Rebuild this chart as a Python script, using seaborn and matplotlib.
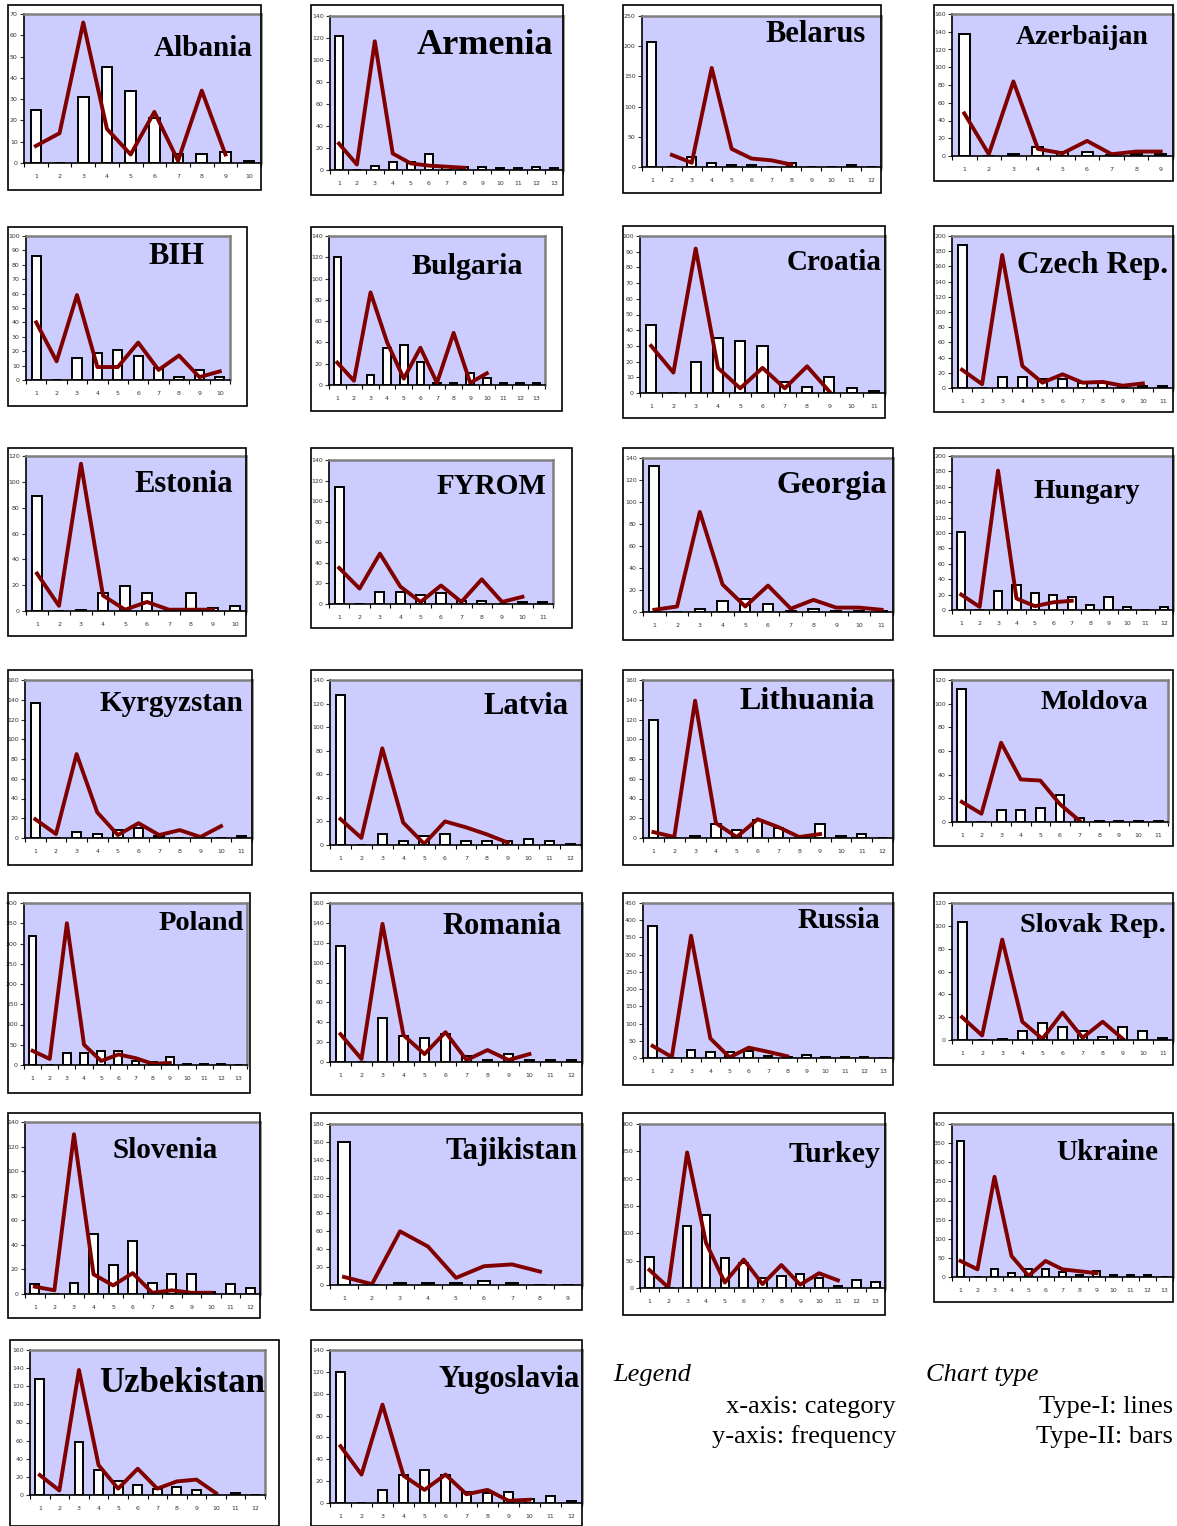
import numpy as np
import matplotlib
matplotlib.use("Agg")
import matplotlib.pyplot as plt
import seaborn as sns
from matplotlib.patches import Rectangle

W, H = 1177, 1526

# ------------------- data: bars (Type-II) and line (Type-I) -------------------
albania_bars = [25, 0, 31, 45, 34, 21, 4, 4, 5, 1]
albania_line = [8, 14, 66, 16, 4, 24, 1, 34, 4]
armenia_bars = [122, 0, 4, 7, 7, 15, 3, 3, 3, 2, 2, 3, 2]
armenia_line = [24, 5, 117, 15, 6, 4, 3, 2]
belarus_bars = [207, 0, 17, 7, 3, 3, 0, 6, 0, 0, 3, 0]
belarus_line = [None, 20, 7, 164, 30, 14, 11, 4]
azerbaijan_bars = [138, 0, 2, 10, 5, 4, 1, 2, 2]
azerbaijan_line = [48, 2, 84, 8, 3, 17, 2, 5, 5]
bih_bars = [86, 0, 15, 19, 21, 17, 8, 2, 7, 2]
bih_line = [40, 13, 59, 9, 9, 26, 7, 17, 2, 6]
bulgaria_bars = [120, 0, 9, 35, 38, 22, 2, 2, 11, 7, 2, 2, 2]
bulgaria_line = [21, 4, 87, 40, 6, 35, 2, 49, 2, 11]
croatia_bars = [43, 0, 20, 35, 33, 30, 7, 4, 10, 3, 1]
croatia_line = [30, 13, 92, 16, 3, 16, 3, 17, 1]
czech_bars = [188, 0, 15, 15, 12, 12, 6, 6, 4, 3, 3]
czech_line = [24, 5, 175, 29, 7, 18, 7, 8, 3, 6]
estonia_bars = [89, 0, 1, 14, 19, 14, 0, 14, 2, 4]
estonia_line = [29, 4, 114, 12, 1, 7, 1, 1, 1]
fyrom_bars = [114, 0, 12, 12, 9, 11, 3, 3, 0, 2, 2]
fyrom_line = [35, 15, 49, 17, 2, 18, 2, 24, 2, 7]
georgia_bars = [133, 0, 3, 10, 12, 7, 1, 3, 1, 1, 1]
georgia_line = [2, 5, 91, 25, 5, 24, 3, 11, 4, 4, 2]
hungary_bars = [101, 0, 25, 33, 22, 19, 17, 7, 17, 4, 0, 4]
hungary_line = [20, 4, 181, 15, 5, 10, 12]
kyrgyzstan_bars = [137, 0, 6, 4, 8, 10, 2, 0, 0, 0, 2]
kyrgyzstan_line = [19, 4, 85, 26, 3, 15, 3, 8, 1, 12]
latvia_bars = [127, 0, 9, 3, 8, 9, 3, 3, 3, 5, 3, 1]
latvia_line = [22, 6, 82, 19, 1, 20, 15, 9, 2]
lithuania_bars = [120, 0, 2, 14, 8, 18, 10, 0, 14, 2, 4, 0]
lithuania_line = [6, 1, 139, 15, 1, 19, 11, 1, 4]
moldova_bars = [112, 0, 10, 10, 12, 23, 3, 1, 1, 1, 1]
moldova_line = [17, 7, 67, 36, 35, 15, 1]
poland_bars = [318, 0, 30, 30, 35, 35, 10, 8, 19, 3, 3, 3, 0]
poland_line = [35, 15, 350, 50, 10, 26, 17, 3, 5]
romania_bars = [117, 0, 44, 26, 24, 28, 6, 2, 8, 2, 2, 2]
romania_line = [28, 3, 139, 27, 8, 30, 2, 12, 2, 8]
russia_bars = [383, 0, 22, 17, 16, 20, 5, 2, 10, 4, 4, 4, 0]
russia_line = [35, 3, 355, 57, 2, 30, 18, 5]
slovak_bars = [103, 0, 1, 8, 15, 11, 8, 3, 11, 8, 2]
slovak_line = [20, 4, 88, 16, 1, 24, 2, 16, 1]
slovenia_bars = [8, 0, 9, 49, 24, 43, 9, 16, 16, 2, 8, 5]
slovenia_line = [6, 3, 130, 16, 7, 17, 1, 3, 1, 1]
tajikistan_bars = [160, 0, 2, 2, 2, 4, 2, 0, 0]
tajikistan_line = [9, 1, 60, 43, 8, 21, 23, 15]
turkey_bars = [57, 0, 113, 134, 54, 45, 18, 22, 25, 18, 3, 14, 11]
turkey_line = [33, 1, 248, 83, 10, 52, 7, 42, 6, 27, 14]
ukraine_bars = [355, 0, 20, 10, 20, 20, 12, 5, 15, 5, 5, 5, 0]
ukraine_line = [42, 20, 262, 55, 3, 42, 20, 15, 10]
uzbekistan_bars = [128, 0, 59, 28, 15, 11, 7, 9, 5, 0, 2, 0]
uzbekistan_line = [22, 5, 138, 33, 7, 29, 7, 15, 17, 2]
yugoslavia_bars = [120, 0, 12, 26, 30, 26, 10, 9, 10, 4, 6, 2]
yugoslavia_line = [52, 26, 90, 25, 12, 26, 8, 12, 2, 3]

# ------------------- layout (pixels): box, plot area, title -------------------
panels = [
    ("Albania", albania_bars, albania_line, 70, 10, (8, 5, 261, 190), (24, 14, 261, 163), 21, 253, 49),
    ("Armenia", armenia_bars, armenia_line, 140, 20, (311, 5, 563, 195), (330, 16, 563, 170), 26, 553, 46),
    ("Belarus", belarus_bars, belarus_line, 250, 50, (623, 5, 881, 193), (642, 16, 881, 167), 22, 866, 35),
    ("Azerbaijan", azerbaijan_bars, azerbaijan_line, 160, 20, (934, 5, 1173, 181), (952, 14, 1173, 156), 20, 1149, 38),
    ("BIH", bih_bars, bih_line, 100, 10, (8, 227, 247, 406), (26, 236, 230, 380), 22, 204, 257),
    ("Bulgaria", bulgaria_bars, bulgaria_line, 140, 20, (311, 227, 562, 411), (329, 236, 545, 385), 21.5, 523, 266),
    ("Croatia", croatia_bars, croatia_line, 100, 10, (623, 226, 885, 418), (640, 236, 885, 393), 21, 882, 263),
    ("Czech Rep.", czech_bars, czech_line, 200, 20, (934, 226, 1173, 412), (952, 236, 1173, 388), 22.5, 1168, 266),
    ("Estonia", estonia_bars, estonia_line, 120, 20, (8, 448, 246, 636), (26, 456, 246, 611), 22, 233, 484),
    ("FYROM", fyrom_bars, fyrom_line, 140, 20, (311, 448, 572, 628), (329, 460, 553, 604), 21, 546, 486),
    ("Georgia", georgia_bars, georgia_line, 140, 20, (623, 448, 893, 640), (643, 458, 893, 612), 23, 887, 486),
    ("Hungary", hungary_bars, hungary_line, 200, 20, (934, 448, 1173, 636), (952, 456, 1173, 610), 20, 1140, 491),
    ("Kyrgyzstan", kyrgyzstan_bars, kyrgyzstan_line, 160, 20, (8, 670, 252, 865), (25, 680, 252, 838), 21, 243, 704),
    ("Latvia", latvia_bars, latvia_line, 140, 20, (311, 670, 582, 871), (330, 680, 581, 845), 22, 569, 707),
    ("Lithuania", lithuania_bars, lithuania_line, 160, 20, (623, 670, 893, 865), (643, 680, 893, 838), 23, 875, 702),
    ("Moldova", moldova_bars, moldova_line, 120, 20, (934, 670, 1173, 846), (952, 680, 1168, 822), 20.5, 1148, 703),
    ("Poland", poland_bars, poland_line, 400, 50, (8, 893, 250, 1093), (24, 903, 247, 1065), 20.5, 244, 923),
    ("Romania", romania_bars, romania_line, 160, 20, (311, 893, 582, 1095), (330, 903, 582, 1062), 22, 562, 927),
    ("Russia", russia_bars, russia_line, 450, 50, (623, 893, 893, 1085), (643, 903, 893, 1058), 21, 880, 921),
    ("Slovak Rep.", slovak_bars, slovak_line, 120, 20, (934, 893, 1173, 1065), (952, 903, 1173, 1040), 20.5, 1166, 925),
    ("Slovenia", slovenia_bars, slovenia_line, 140, 20, (8, 1113, 260, 1318), (25, 1122, 260, 1294), 21, 218, 1150),
    ("Tajikistan", tajikistan_bars, tajikistan_line, 180, 20, (311, 1113, 582, 1310), (330, 1124, 582, 1285), 22, 578, 1152),
    ("Turkey", turkey_bars, turkey_line, 300, 50, (623, 1113, 885, 1315), (640, 1124, 885, 1288), 21.5, 880, 1155),
    ("Ukraine", ukraine_bars, ukraine_line, 400, 50, (934, 1113, 1173, 1302), (952, 1124, 1173, 1277), 21, 1158, 1152),
    ("Uzbekistan", uzbekistan_bars, uzbekistan_line, 160, 20, (10, 1340, 279, 1526), (30, 1350, 265, 1495), 25, 265, 1384),
    ("Yugoslavia", yugoslavia_bars, yugoslavia_line, 140, 20, (311, 1340, 582, 1526), (330, 1350, 582, 1503), 22, 580, 1380),
]

fig = plt.figure(figsize=(W / 100, H / 100), dpi=100)

for name, bars, line, ymax, step, box, area, fs, tx, ty in panels:
    # outer chart frame
    fig.add_artist(Rectangle((box[0] / W, 1 - box[3] / H), (box[2] - box[0]) / W, (box[3] - box[1]) / H,
                             transform=fig.transFigure, fill=False, edgecolor="black", lw=1.2))
    ax = fig.add_axes([area[0] / W, 1 - area[3] / H, (area[2] - area[0]) / W, (area[3] - area[1]) / H])
    ax.set_facecolor("#ccccff")

    cats = np.arange(1, len(bars) + 1)
    sns.barplot(x=cats, y=bars, native_scale=True, width=0.45, color="white", saturation=1,
                edgecolor="black", linewidth=1.4, ax=ax)

    lx = [c for c, v in zip(cats, line) if v is not None]
    ly = [v for v in line if v is not None]
    sns.lineplot(x=lx, y=ly, color="#800000", linewidth=2.8, sort=False, ax=ax)

    n = len(bars)
    ax.set_xlim(0.5, n + 0.5)
    ax.set_ylim(0, ymax)
    ax.set_xticks(cats)
    ax.set_xticklabels([str(c) for c in cats])
    ax.set_xticks(np.arange(0.5, n + 1), minor=True)
    ax.set_yticks(np.arange(0, ymax + step, step))
    ax.tick_params(axis="x", which="major", length=0, labelsize=4.5, pad=8, colors="#333333")
    ax.tick_params(axis="x", which="minor", length=3, width=0.8, direction="out")
    ax.tick_params(axis="y", length=3, width=0.8, direction="out", labelsize=4.5, pad=1.5, colors="#333333")
    ax.set_xlabel("")
    ax.set_ylabel("")
    for s in ("left", "bottom"):
        ax.spines[s].set_color("black")
        ax.spines[s].set_linewidth(1.2)
    for s in ("top", "right"):
        ax.spines[s].set_color("#808080")
        ax.spines[s].set_linewidth(1.8)

    fig.text(tx / W, 1 - ty / H, name, ha="right", va="center", fontsize=fs,
             family="Liberation Serif", weight="bold")

# ------------------- legend text -------------------
serif = "Liberation Serif"
fig.text(613 / W, 1 - 1375 / H, "Legend", ha="left", va="center", fontsize=19, family=serif, style="italic")
fig.text(896 / W, 1 - 1407 / H, "x-axis: category", ha="right", va="center", fontsize=19, family=serif)
fig.text(896 / W, 1 - 1437 / H, "y-axis: frequency", ha="right", va="center", fontsize=19, family=serif)
fig.text(926 / W, 1 - 1375 / H, "Chart type", ha="left", va="center", fontsize=19, family=serif, style="italic")
fig.text(1173 / W, 1 - 1407 / H, "Type-I: lines", ha="right", va="center", fontsize=19, family=serif)
fig.text(1173 / W, 1 - 1437 / H, "Type-II: bars", ha="right", va="center", fontsize=19, family=serif)

fig.savefig("out.png", dpi=100)
